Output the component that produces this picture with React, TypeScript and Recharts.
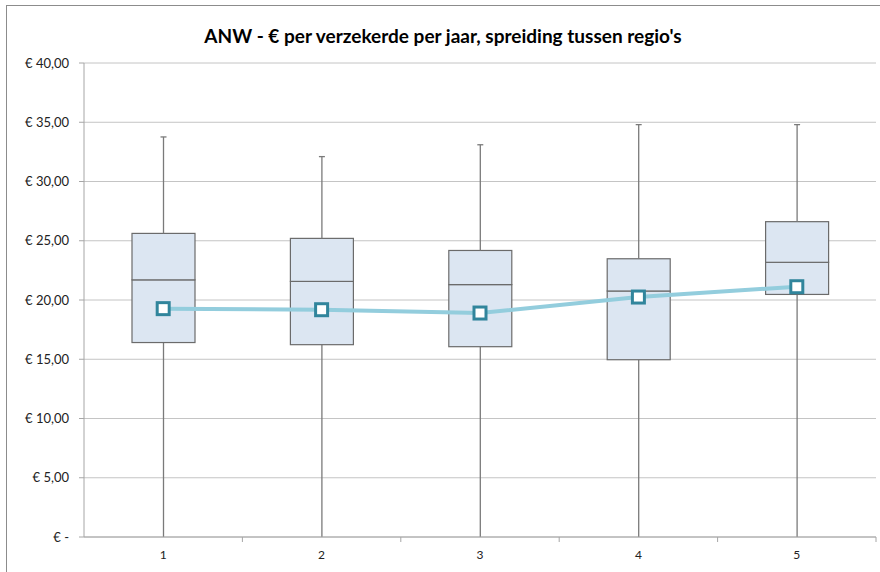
import React from 'react'
import { ComposedChart, Bar, Line, XAxis, YAxis, CartesianGrid } from 'recharts'

// regio's
const categories = ['1', '2', '3', '4', '5']
const minValues = [0, 0, 0, 0, 0]
const q1Values = [16.41, 16.23, 16.06, 14.96, 20.47]
const medianValues = [21.7, 21.57, 21.3, 20.76, 23.18]
const q3Values = [25.62, 25.2, 24.18, 23.48, 26.61]
const maxValues = [33.76, 32.1, 33.1, 34.8, 34.8]
const meanValues = [19.27, 19.18, 18.9, 20.25, 21.12]
const yTicks = [0, 5, 10, 15, 20, 25, 30, 35, 40]

const data = categories.map((name, i) => ({
  name,
  base: minValues[i],
  lowWhisker: q1Values[i] - minValues[i],
  lowBox: medianValues[i] - q1Values[i],
  highBox: q3Values[i] - medianValues[i],
  highWhisker: maxValues[i] - q3Values[i],
  mean: meanValues[i],
}))

const FONT = 'Lato, "Open Sans", sans-serif'
const PLOT_LEFT = 84
const PLOT_RIGHT = 876
const BAND = (PLOT_RIGHT - PLOT_LEFT) / categories.length

const formatEuro = (v: number) => (v === 0 ? '€ -' : '€ ' + v.toFixed(2).replace('.', ','))

const Whisker = (props: any) => {
  const { x, y, width, height, cap } = props
  const cx = x + width / 2
  return (
    <g>
      <line x1={cx} x2={cx} y1={y} y2={y + height} stroke="#7a7a7a" strokeWidth={1.3} />
      {cap && <line x1={cx - 3} x2={cx + 3} y1={y} y2={y} stroke="#7a7a7a" strokeWidth={1.3} />}
    </g>
  )
}

const BoxPart = (props: any) => {
  const { x, y, width, height } = props
  return <rect x={x} y={y} width={width} height={height} fill="#dce6f2" stroke="#6b6b6b" strokeWidth={1.2} />
}

const MeanDot = (props: any) => {
  const { cx, cy } = props
  return <rect x={cx - 6} y={cy - 6} width={12} height={12} fill="#fff" stroke="#31859c" strokeWidth={3} />
}

const XTick = (props: any) => {
  const { x, y, payload, index } = props
  const left = x - BAND / 2
  return (
    <g>
      {index > 0 && <line x1={left} x2={left} y1={y} y2={y + 5} stroke="#a6a6a6" />}
      {index === categories.length - 1 && (
        <line x1={x + BAND / 2} x2={x + BAND / 2} y1={y} y2={y + 5} stroke="#a6a6a6" />
      )}
      <text x={x} y={y + 22} textAnchor="middle" fontSize={12} fill="#222" fontFamily={FONT}>
        {payload.value}
      </text>
    </g>
  )
}

export default function App() {
  return (
    <div style={{ position: 'absolute', left: 0, top: 0, width: 880, height: 572, background: '#fff', overflow: 'hidden' }}>
      <div
        style={{
          position: 'absolute',
          left: 6,
          top: 5,
          width: 880,
          height: 580,
          borderTop: '1.5px solid #8c8c8c',
          borderLeft: '1.5px solid #8c8c8c',
        }}
      />
      <div
        style={{
          position: 'absolute',
          left: 0,
          width: 886,
          top: 24,
          textAlign: 'center',
          fontFamily: FONT,
          fontWeight: 'bold',
          fontSize: 19,
          color: '#000',
        }}
      >
        ANW - € per verzekerde per jaar, spreiding tussen regio's
      </div>
      <div style={{ position: 'absolute', left: 0, top: 0 }}>
        <ComposedChart width={880} height={572} data={data} margin={{ top: 63, right: 4, left: 0, bottom: 0 }} barSize={63}>
          <CartesianGrid vertical={false} stroke="#c4c4c4" />
          <XAxis
            dataKey="name"
            height={35}
            axisLine={{ stroke: '#a6a6a6' }}
            tickLine={false}
            tickSize={0}
            tickMargin={0}
            tick={<XTick />}
            interval={0}
          />
          <YAxis
            width={84}
            domain={[0, 40]}
            ticks={yTicks}
            tickFormatter={formatEuro}
            axisLine={{ stroke: '#a6a6a6' }}
            tickLine={{ stroke: '#a6a6a6' }}
            tickSize={5}
            tickMargin={10}
            tick={{ fontSize: 13, fill: '#222', fontFamily: FONT }}
            interval={0}
          />
          <Bar dataKey="base" stackId="box" fill="none" isAnimationActive={false} />
          <Bar dataKey="lowWhisker" stackId="box" shape={<Whisker />} isAnimationActive={false} />
          <Bar dataKey="lowBox" stackId="box" shape={<BoxPart />} isAnimationActive={false} />
          <Bar dataKey="highBox" stackId="box" shape={<BoxPart />} isAnimationActive={false} />
          <Bar dataKey="highWhisker" stackId="box" shape={<Whisker cap />} isAnimationActive={false} />
          <Line
            dataKey="mean"
            stroke="#93cddd"
            strokeWidth={4}
            dot={<MeanDot />}
            activeDot={false}
            isAnimationActive={false}
          />
        </ComposedChart>
      </div>
    </div>
  )
}
